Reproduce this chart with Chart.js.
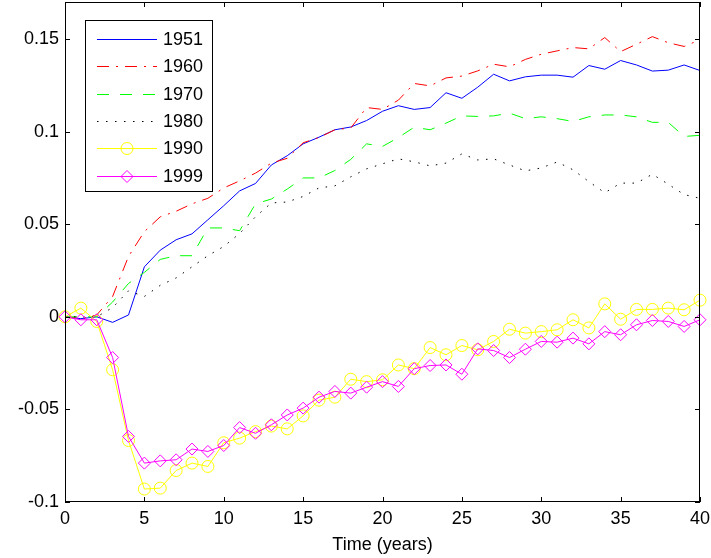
<!DOCTYPE html>
<html>
<head>
<meta charset="utf-8">
<script src="https://cdn.jsdelivr.net/npm/chart.js@4.4.1/dist/chart.umd.min.js"></script>
<style>
  html, body { margin: 0; padding: 0; background: #fff; }
  canvas { display: block; }
</style>
</head>
<body>
<canvas id="chart" width="711" height="558"></canvas>
<script>
const years = [0, 1, 2, 3, 4, 5, 6, 7, 8, 9, 10, 11, 12, 13, 14, 15, 16, 17, 18, 19, 20,
  21, 22, 23, 24, 25, 26, 27, 28, 29, 30, 31, 32, 33, 34, 35, 36, 37, 38, 39, 40];
const xTicks = [0, 5, 10, 15, 20, 25, 30, 35, 40];
const yTicks = [-0.1, -0.05, 0, 0.05, 0.1, 0.15];
const seriesNames = ["1951", "1960", "1970", "1980", "1990", "1999"];

const s1951 = [0, -0.001, 0, -0.003, 0.001, 0.027, 0.036, 0.0416, 0.0448, 0.0524, 0.060, 0.068, 0.072, 0.082, 0.087, 0.0934, 0.097, 0.101, 0.1025, 0.106, 0.111,
  0.114, 0.112, 0.113, 0.121, 0.118, 0.124, 0.131, 0.1274, 0.1296, 0.1305, 0.1305, 0.1294, 0.1357, 0.1337, 0.1384, 0.136, 0.1327, 0.1332, 0.136, 0.133];
const s1960 = [0, -0.001, 0.001, 0.011, 0.0326, 0.046, 0.054, 0.057, 0.061, 0.064, 0.0696, 0.0734, 0.0776, 0.083, 0.0856, 0.094, 0.0968, 0.101, 0.102, 0.113, 0.112,
  0.117, 0.126, 0.1247, 0.129, 0.130, 0.1328, 0.1364, 0.135, 0.139, 0.1418, 0.1436, 0.1454, 0.1447, 0.1508, 0.1432, 0.1472, 0.1513, 0.148, 0.146, 0.1496];
const s1970 = [0, 0, 0, 0.008, 0.018, 0.024, 0.031, 0.033, 0.033, 0.048, 0.048, 0.0465, 0.061, 0.0636, 0.069, 0.075, 0.075, 0.079, 0.085, 0.0934, 0.092,
  0.0968, 0.1024, 0.101, 0.1046, 0.1085, 0.1082, 0.1085, 0.110, 0.107, 0.108, 0.107, 0.1055, 0.108, 0.109, 0.109, 0.108, 0.105, 0.105, 0.0974, 0.098];
const s1980 = [0, 0, 0, 0.005, 0.014, 0.011, 0.017, 0.021, 0.027, 0.033, 0.038, 0.045, 0.054, 0.0615, 0.062, 0.065, 0.0696, 0.0707, 0.0756, 0.0799, 0.0826,
  0.0853, 0.0837, 0.0815, 0.083, 0.088, 0.0847, 0.0853, 0.082, 0.0788, 0.0804, 0.0836, 0.0794, 0.073, 0.067, 0.0722, 0.0722, 0.077, 0.0716, 0.066, 0.064];
const s1990 = [0, 0.0047, -0.0025, -0.0286, -0.0668, -0.093, -0.0925, -0.083, -0.079, -0.0808, -0.068, -0.0655, -0.062, -0.059, -0.0605, -0.0535, -0.045, -0.0434, -0.0337, -0.035, -0.034,
  -0.026, -0.028, -0.0166, -0.0205, -0.0155, -0.0178, -0.0133, -0.0067, -0.0088, -0.008, -0.007, -0.0016, -0.006, 0.007, -0.0013, 0.004, 0.004, 0.0047, 0.0038, 0.009];
const s1999 = [0, -0.0016, -0.0016, -0.022, -0.0646, -0.079, -0.0778, -0.0772, -0.0714, -0.0727, -0.0695, -0.0598, -0.0629, -0.0583, -0.053, -0.0493, -0.0434, -0.0403, -0.0412, -0.038, -0.035,
  -0.0376, -0.028, -0.0263, -0.026, -0.031, -0.0173, -0.0182, -0.022, -0.0175, -0.0133, -0.0137, -0.0115, -0.0146, -0.008, -0.0097, -0.0043, -0.002, -0.0025, -0.0052, -0.0016];

const FONT = { family: "Arial, 'Liberation Sans', sans-serif", size: 18 };
const pts = (arr) => arr.map((v, i) => ({ x: years[i], y: v }));

const styles = [
  { color: "#0000ff", dash: [], marker: false },
  { color: "#ff0000", dash: [12, 7, 2, 7], marker: false },
  { color: "#00ff00", dash: [12, 11], marker: false },
  { color: "#000000", dash: [1.5, 7.5], marker: false },
  { color: "#ffff00", dash: [], marker: "circle" },
  { color: "#ff00ff", dash: [], marker: "rectRot" }
];
const allSeries = [s1951, s1960, s1970, s1980, s1990, s1999];

const datasets = allSeries.map((s, i) => ({
  label: seriesNames[i],
  data: pts(s),
  borderColor: styles[i].color,
  borderWidth: 1,
  borderDash: styles[i].dash,
  pointStyle: styles[i].marker || "circle",
  pointRadius: styles[i].marker ? 6 : 0,
  pointBorderColor: styles[i].color,
  pointBackgroundColor: "rgba(0,0,0,0)",
  pointBorderWidth: 1,
  fill: false,
  tension: 0,
  clip: styles[i].marker ? false : 0,
  order: 6 - i
}));

// axes box, inward ticks and the legend box
const framePlugin = {
  id: "frame",
  afterDraw(chart) {
    const ctx = chart.ctx;
    const a = chart.chartArea;
    const xs = chart.scales.x, ys = chart.scales.y;
    ctx.save();
    ctx.strokeStyle = "#000";
    ctx.lineWidth = 1;
    ctx.setLineDash([]);
    ctx.strokeRect(a.left + 0.5, a.top + 0.5, a.right - a.left - 1, a.bottom - a.top - 1);
    ctx.beginPath();
    xTicks.forEach((t) => {
      const px = Math.round(xs.getPixelForValue(t)) + 0.5;
      ctx.moveTo(px, a.bottom); ctx.lineTo(px, a.bottom - 5);
      ctx.moveTo(px, a.top); ctx.lineTo(px, a.top + 5);
    });
    yTicks.forEach((t) => {
      const py = Math.round(ys.getPixelForValue(t)) + 0.5;
      ctx.moveTo(a.left, py); ctx.lineTo(a.left + 5, py);
      ctx.moveTo(a.right, py); ctx.lineTo(a.right - 5, py);
    });
    ctx.stroke();

    // legend
    const lx = 85, ly = 20, lw = 127, lh = 171;
    ctx.fillStyle = "#fff";
    ctx.fillRect(lx, ly, lw, lh);
    ctx.strokeRect(lx + 0.5, ly + 0.5, lw, lh);
    ctx.font = FONT.size + "px " + FONT.family;
    ctx.textBaseline = "middle";
    ctx.textAlign = "left";
    seriesNames.forEach((name, i) => {
      const y = Math.round(39 + i * 27.3) + 0.5;
      const st = styles[i];
      ctx.strokeStyle = st.color;
      ctx.setLineDash(st.dash);
      ctx.beginPath();
      ctx.moveTo(97, y); ctx.lineTo(157, y);
      ctx.stroke();
      ctx.setLineDash([]);
      if (st.marker) {
        ctx.fillStyle = "rgba(0,0,0,0)";
        Chart.helpers.drawPoint(ctx, { pointStyle: st.marker, radius: 6, borderWidth: 1 }, 127, y);
      }
      ctx.fillStyle = "#000";
      ctx.fillText(name, 163, y + 1);
    });
    ctx.restore();
  }
};

const chart = new Chart(document.getElementById("chart"), {
  type: "line",
  data: { datasets: datasets },
  options: {
    responsive: false,
    animation: false,
    devicePixelRatio: 1,
    layout: { autoPadding: false, padding: { top: 2, right: 11, left: 0, bottom: 0 } },
    plugins: { legend: { display: false }, tooltip: { enabled: false } },
    scales: {
      x: {
        type: "linear",
        min: 0,
        max: 40,
        grid: { display: false, drawTicks: false },
        border: { display: false },
        afterBuildTicks: (axis) => { axis.ticks = xTicks.map((v) => ({ value: v })); },
        afterFit: (axis) => {
          axis.height = 56;
          axis.paddingLeft = 0;
          axis.paddingRight = 0;
        },
        ticks: { color: "#000", font: FONT, padding: 6, maxRotation: 0, autoSkip: false },
        title: { display: true, text: "Time (years)", color: "#000", font: FONT, padding: { top: 0, bottom: 2 } }
      },
      y: {
        min: -0.1,
        max: 0.17,
        grid: { display: false, drawTicks: false },
        border: { display: false },
        afterBuildTicks: (axis) => { axis.ticks = yTicks.map((v) => ({ value: v })); },
        afterFit: (axis) => {
          axis.width = 65;
          axis.paddingTop = 0;
          axis.paddingBottom = 0;
        },
        ticks: {
          color: "#000",
          font: FONT,
          padding: 6,
          callback: (v) => String(Math.round(v * 100) / 100)
        }
      }
    }
  },
  plugins: [framePlugin]
});
</script>
</body>
</html>
